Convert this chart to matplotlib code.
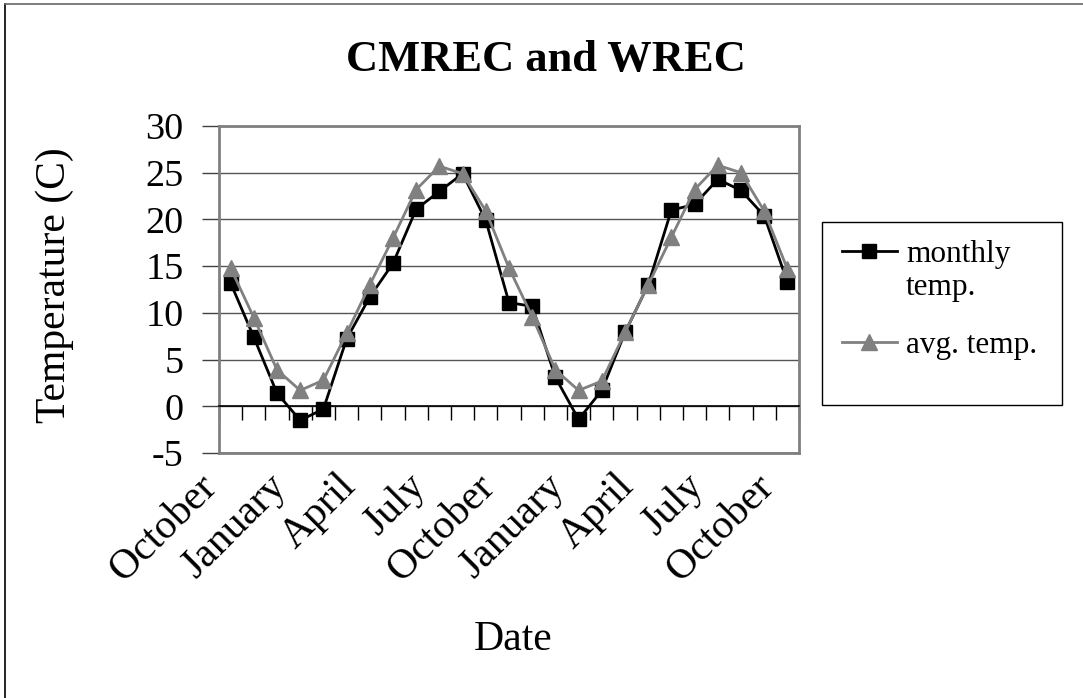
import matplotlib
matplotlib.use("Agg")
import matplotlib.pyplot as plt
import matplotlib.transforms as mtransforms
from matplotlib.lines import Line2D
from matplotlib.patches import Rectangle

# data (Oct .. Oct, 25 months)
months = ["October", "November", "December", "January", "February", "March",
          "April", "May", "June", "July", "August", "September",
          "October", "November", "December", "January", "February", "March",
          "April", "May", "June", "July", "August", "September", "October"]
monthly_temp = [13.2, 7.4, 1.4, -1.5, -0.3, 7.2, 11.7, 15.3, 21.1, 23.0, 24.9, 19.9,
                11.1, 10.7, 3.1, -1.4, 1.7, 7.9, 13.0, 21.0, 21.6, 24.3, 23.1, 20.4, 13.3]
avg_temp = [14.8, 9.5, 3.9, 1.7, 2.8, 7.8, 13.0, 18.0, 23.2, 25.7, 24.9, 20.9,
            14.8, 9.6, 3.9, 1.7, 2.7, 7.9, 13.0, 18.1, 23.2, 25.8, 25.0, 20.9, 14.7]
y_ticks = [-5, 0, 5, 10, 15, 20, 25, 30]

plt.rcParams['font.family'] = ['Liberation Serif', 'DejaVu Serif']

W, H = 1083, 698
fig = plt.figure(figsize=(W / 100, H / 100), dpi=100)
ax = fig.add_axes([219 / W, 1 - 453 / H, 580 / W, 327 / H])

x = list(range(len(months)))
ax.plot(x, monthly_temp, color='black', lw=2, marker='s', ms=10,
        mfc='black', mec='black', zorder=3, clip_on=False)
ax.plot(x, avg_temp, color='#808080', lw=2, marker='^', ms=11.5,
        mfc='#808080', mec='#808080', zorder=4, clip_on=False)

ax.set_xlim(-0.5, len(months) - 0.5)
ax.set_ylim(-5, 30)

# y axis
ax.set_yticks(y_ticks)
ax.set_yticklabels([str(v) for v in y_ticks])
ax.tick_params(axis='y', direction='out', length=12, width=1, color='#404040',
               labelsize=27.5, pad=13.5)
ax.yaxis.grid(True, color='#555555', lw=1)
ax.set_axisbelow(True)

for side in ['left', 'top', 'right']:
    ax.spines[side].set_color('#808080')
    ax.spines[side].set_linewidth(2)

# category axis line at y = 0 with boundary ticks
ax.spines['bottom'].set_position(('data', 0))
ax.spines['bottom'].set_color('black')
ax.spines['bottom'].set_linewidth(1.2)
ax.set_xticks([i - 0.5 for i in range(len(months) + 1)])
ax.tick_params(axis='x', direction='out', length=10, width=1, color='black',
               labelbottom=False)

# month labels below the plot area, every third month
sec = ax.secondary_xaxis('bottom')
sec.spines['bottom'].set_color('#808080')
sec.spines['bottom'].set_linewidth(2)
sec.set_xticks(x[::3])
sec.set_xticklabels(months[::3], rotation=45, ha='right', va='center',
                    rotation_mode='anchor', fontsize=30)
sec.tick_params(axis='x', length=0, pad=20)
shift = mtransforms.ScaledTranslation(-0.2, 0, fig.dpi_scale_trans)
for lab in sec.get_xticklabels():
    lab.set_transform(lab.get_transform() + shift)

# titles
fig.text(546 / W, 1 - 60 / H, "CMREC and WREC", ha='center', va='center',
         fontsize=32, fontweight='bold')
fig.text(513 / W, 1 - 640 / H, "Date", ha='center', va='center', fontsize=30)
fig.text(55 / W, 1 - 285 / H, "Temperature (C)", ha='center', va='center',
         rotation=90, fontsize=30)

# legend
handles = [Line2D([], [], color='black', lw=2, marker='s', ms=10),
           Line2D([], [], color='#808080', lw=2, marker='^', ms=11.5)]
leg = ax.legend(handles, ["monthly\ntemp.", "avg. temp."],
                loc='upper left', bbox_to_anchor=(842 / W, 1 - 240 / H),
                bbox_transform=fig.transFigure, frameon=False, fontsize=22.5,
                handlelength=1.75, handletextpad=0.3, labelspacing=0.9,
                borderpad=0, borderaxespad=0)
try:
    leg._legend_handle_box.get_children()[0].get_children()[0].align = 'top'
except Exception:
    pass
fig.patches.append(Rectangle((822 / W, 1 - 405 / H), 240 / W, 183 / H,
                             transform=fig.transFigure, fill=False,
                             edgecolor='black', lw=1))

# outer chart border (left and top only visible)
fig.add_artist(Line2D([5 / W, 5 / W], [0, 1 - 4 / H], color='black', lw=1.2,
                      transform=fig.transFigure))
fig.add_artist(Line2D([5 / W, 1], [1 - 4 / H, 1 - 4 / H], color='#666666', lw=1.2,
                      transform=fig.transFigure))

fig.savefig("out.png", dpi=100)
